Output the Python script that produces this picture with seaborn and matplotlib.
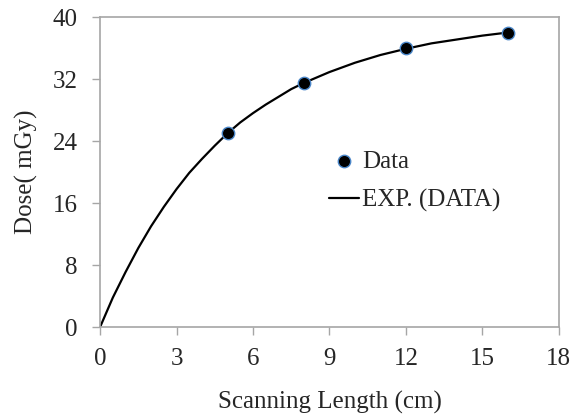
import matplotlib
matplotlib.use("Agg")
import matplotlib.pyplot as plt
import seaborn as sns
import pandas as pd

# measured points
scan_len = [5, 8, 12, 16]
dose = [25.0, 31.5, 36.0, 38.0]

# exponential trend line
fit_x = [0, 0.5, 1, 1.5, 2, 2.5, 3, 3.5, 4, 4.5, 5, 5.5, 6, 6.5, 7, 7.5,
         8, 9, 10, 11, 12, 13, 14, 15, 16]
fit_y = [0, 3.8, 7.1, 10.2, 13.0, 15.5, 17.8, 19.9, 21.7, 23.4, 25.0, 26.4,
         27.6, 28.7, 29.7, 30.7, 31.5, 32.9, 34.1, 35.1, 35.9, 36.6, 37.1,
         37.6, 38.0]

x_ticks = [0, 3, 6, 9, 12, 15, 18]
y_ticks = [0, 8, 16, 24, 32, 40]

sns.set_style("white")
plt.rcParams['font.family'] = ['Liberation Serif', 'DejaVu Serif']

df_pts = pd.DataFrame({'x': scan_len, 'y': dose})
df_fit = pd.DataFrame({'x': fit_x, 'y': fit_y})

fig = plt.figure(figsize=(5.72, 4.15), dpi=100)
ax = fig.add_axes([0.175, 0.212, 0.802, 0.747])

sns.lineplot(data=df_fit, x='x', y='y', ax=ax, color='black', linewidth=1.6,
             label='EXP. (DATA)')
sns.scatterplot(data=df_pts, x='x', y='y', ax=ax, color='black', s=80,
                edgecolor='#4a86c8', linewidth=1.0, label='Data', zorder=3)

ax.set_xlim(0, 18)
ax.set_ylim(0, 40)
ax.set_xticks(x_ticks)
ax.set_yticks(y_ticks)
ax.tick_params(axis='both', direction='out', length=6, width=1,
               color='#a6a6a6', labelsize=18, bottom=True, left=True)
ax.tick_params(axis='x', pad=9)
ax.tick_params(axis='y', pad=10)
for sp in ax.spines.values():
    sp.set_color('#a6a6a6')
    sp.set_linewidth(1.2)

ax.set_xlabel('Scanning Length (cm)', fontsize=18, labelpad=15)
ax.set_ylabel('Dose( mGy)', fontsize=18, labelpad=11)

handles, labels = ax.get_legend_handles_labels()
order = [labels.index('Data'), labels.index('EXP. (DATA)')]
ax.legend([handles[i] for i in order], [labels[i] for i in order],
          frameon=False, fontsize=18, loc='center left',
          bbox_to_anchor=(0.50, 0.47), borderaxespad=0, borderpad=0,
          handlelength=1.2, handletextpad=0.1, labelspacing=0.65)

fig.savefig('out.png', dpi=100)
